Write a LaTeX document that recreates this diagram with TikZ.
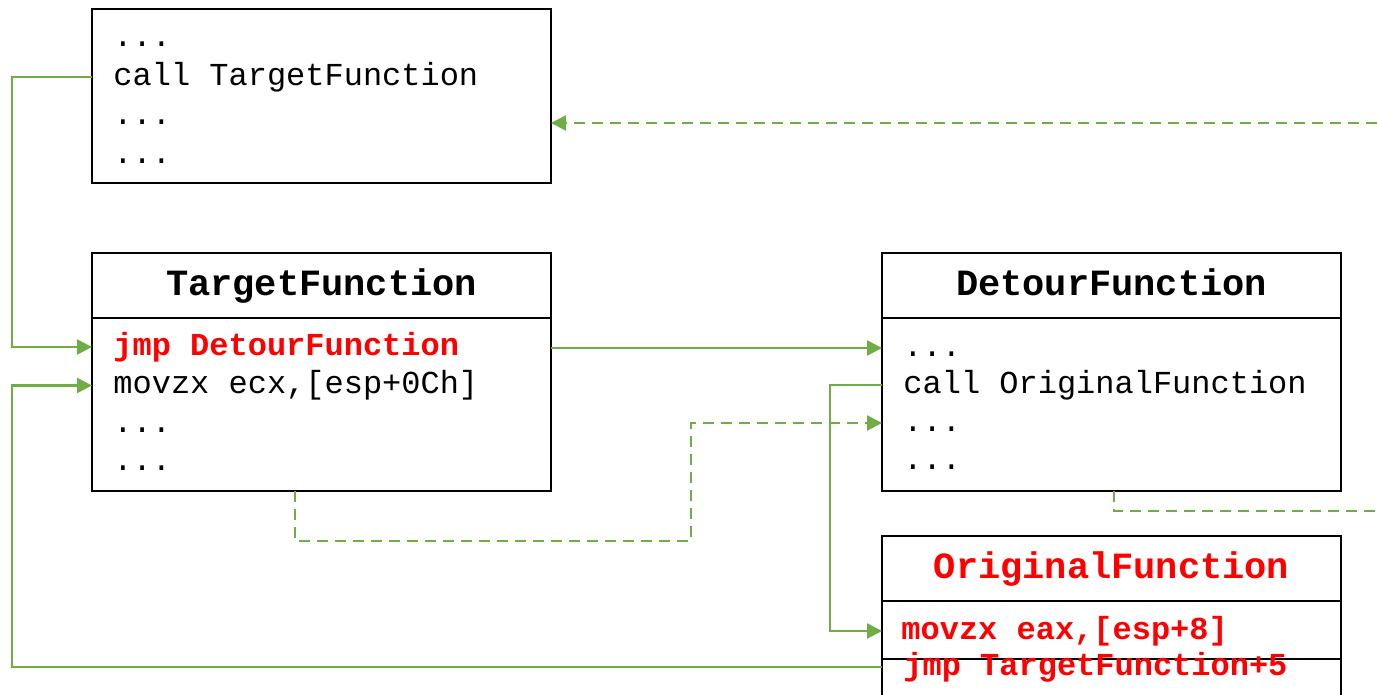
\documentclass[tikz,border=0pt]{standalone}
\usepackage{fontspec}
\setmonofont{Liberation Mono}
\usetikzlibrary{arrows.meta,positioning}
\definecolor{flowgreen}{HTML}{70AD47}
\definecolor{patchred}{HTML}{FF0000}

\begin{document}
\begin{tikzpicture}[x=0.5pt,y=-0.5pt,
  box/.style={draw, line width=1.2pt, outer sep=0pt, minimum width=229.5pt},
  head/.style={box, minimum height=32.5pt, text height=11.5pt, text depth=1.85pt,
    font=\fontsize{18.5}{20}\selectfont\ttfamily\bfseries},
  code/.style={anchor=west, inner sep=0pt, text height=10pt, text depth=1.6pt,
    font=\fontsize{16}{18}\selectfont\ttfamily},
  patch/.style={code, text=patchred, font=\fontsize{16}{18}\selectfont\ttfamily\bfseries},
  flow/.style={flowgreen, line width=1.3pt, -{Triangle[length=7.5pt,width=7.5pt]}},
  back/.style={flow, dash pattern=on 5.5pt off 3.5pt}]
  \clip (0,0) rectangle (1377,695);

  \node[box, minimum height=87pt] (caller) at (321.5,96) {};
  \node[code] (cdots1) at (113,38) {...};
  \node[code] (ccall) at (113,77) {call TargetFunction};
  \node[code] (cdots2) at (113,116) {...};
  \node[code] (cdots3) at (113,155) {...};

  \node[head] (thead) at (321.5,285.5) {TargetFunction};
  \node[box, minimum height=86.5pt, below=0pt of thead] (tbody) {};
  \node[patch] (tjmp) at (113,347) {jmp DetourFunction};
  \node[code] (tmov) at (113,385.5) {movzx ecx,[esp+0Ch]};
  \node[code] (tdots1) at (113,424) {...};
  \node[code] (tdots2) at (113,462.5) {...};

  \node[head] (dhead) at (1111.5,285.5) {DetourFunction};
  \node[box, minimum height=86.5pt, below=0pt of dhead] (dbody) {};
  \node[code] (ddots1) at (903,348) {...};
  \node[code] (dcall) at (903,385) {call OriginalFunction};
  \node[code] (ddots2) at (903,423) {...};
  \node[code] (ddots3) at (903,461) {...};

  \node[head, text=patchred] (ohead) at (1111.5,568.5) {OriginalFunction};
  \node[box, minimum height=29pt, below=0pt of ohead] (orow1) {};
  \node[box, minimum height=35.5pt, below=0pt of orow1] (orow2) {};
  \node[patch] (omov) at (901,631) {movzx eax,[esp+8]};
  \node[patch] (ojmp) at (903,667) {jmp TargetFunction+5};

  \coordinate (cret) at (1377,123);
  \coordinate (dexit) at (1377,511);

  \draw[flow] (caller.west |- ccall.west) -- ++(-80,0) |- (tbody.west |- tjmp.west);
  \draw[flow] (orow2.west |- ojmp.west) -- ++(-870,0) |- (tbody.west |- tmov.west);
  \draw[flow] (tbody.east |- ddots1.west) -- (dbody.west |- ddots1.west);
  \draw[flow] (dbody.west |- dcall.west) -- ++(-52,0) |- (orow1.west |- omov.west);

  \draw[back] ([xshift=-13.25pt]tbody.south) -- ++(0,50) -- ++(396,0) |- (dbody.west |- ddots2.west);
  \draw[back, -] ([xshift=1.25pt]dbody.south) |- (dexit);
  \draw[back] (cret) -- (caller.east |- cret);
\end{tikzpicture}
\end{document}
